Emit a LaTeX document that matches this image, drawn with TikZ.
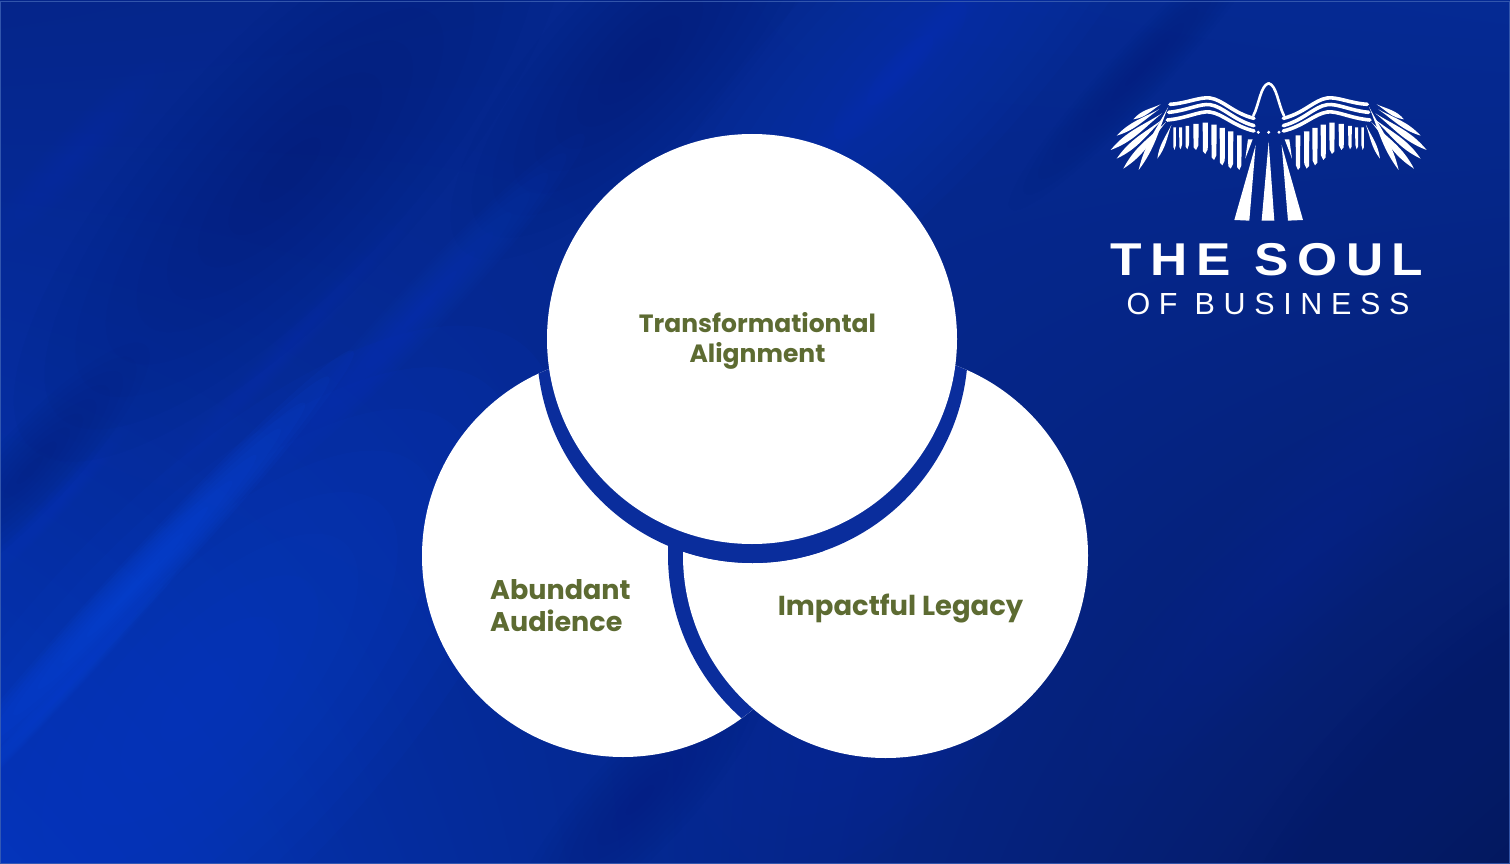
\documentclass[tikz,border=0pt]{standalone}
\usepackage{fontspec}
\usetikzlibrary{shadings}
\setmainfont{Poppins}
\newfontfamily\logofont[LetterSpace=19,FakeStretch=1.12]{Liberation Sans}
\newfontfamily\logosub[LetterSpace=28.3]{Liberation Sans}
\definecolor{ringblue}{HTML}{0A2D9C}
\definecolor{labelgreen}{HTML}{5D6B32}
\definecolor{edgeblue}{HTML}{3E62B4}
\definecolor{bgTL}{HTML}{05258A}
\definecolor{bgTR}{HTML}{052A94}
\definecolor{bgBL}{HTML}{0434B6}
\definecolor{bgBR}{HTML}{05185F}
\definecolor{glowblue}{HTML}{0B3DC8}
\definecolor{brightblue}{HTML}{0D46DC}
\definecolor{darkblue}{HTML}{031A68}
\tikzset{
  disc/.style={fill=white,draw=none},
  ringdisc/.style={fill=ringblue,draw=none},
  label/.style={font=\bfseries\fontsize{27}{32}\selectfont,text=labelgreen,inner sep=0pt},
  quill/.style={fill=white,draw=none},
  band/.style={draw=white,line width=3.6pt,line cap=round},
}
% soft diagonal streak: centre, half length, half width, colour, opacity
\newcommand{\softstreak}[6][47]{%
  \foreach \k in {1,...,9}{%
    \fill[#5,opacity=#6/9,rotate around={#1:(#2)}] (#2) ellipse[x radius={#3*\k/9},y radius={#4*\k/9}];
  }%
}
\newcommand{\lens}[3]{\fill[quill] (#1) to[relative,out=#3*.35,in=180-#3*1.5] (#2) to[relative,out=#3*1.5,in=180-#3*.35] (#1);}
\newcommand{\plume}[4]{\fill[quill] (#1-#3,#2) -- (#1+#3,#2) -- (#1+#3*.9,#4-14) -- (#1,#4) -- (#1-#3*.9,#4-8) -- cycle;}
\newcommand{\halfbird}{%
  \draw[white,line width=2.6pt,line cap=round] (490,137) .. controls (507,105) and (512,45) .. (536,40);
  \draw[band] (240,103) .. controls (290,100) and (330,80) .. (360,84) .. controls (400,90) and (430,130) .. (492,145);
  \draw[band] (236,127) .. controls (290,122) and (330,100) .. (360,104) .. controls (400,110) and (430,150) .. (492,167);
  \draw[band] (232,150) .. controls (290,145) and (330,122) .. (360,126) .. controls (400,132) and (430,168) .. (492,183);
  \plume{254}{172}{4}{240}
  \plume{272}{172}{4.5}{238}
  \plume{292}{168}{5.5}{238}
  \plume{318}{162}{8}{240}
  \plume{346}{158}{8}{252}
  \plume{372}{164}{8}{270}
  \plume{397}{174}{8}{286}
  \plume{422}{184}{8}{296}
  \plume{448}{196}{7}{300}
  \fill[quill] (488,208) -- (474,208) -- (466,266) -- cycle;
  \lens{235,110}{146,300}{8}
  \lens{244,165}{202,266}{10}
  \lens{212,103}{130,148}{14}
  \lens{207,118}{80,197}{10}
  \lens{216,130}{62,240}{10}
  \lens{220,146}{80,266}{10}
  \lens{228,156}{100,296}{10}
  \fill[quill] (497,225) -- (433,450) -- (478,452) -- cycle;
}
\begin{document}
\begin{tikzpicture}[x=1pt,y=-1pt]
\useasboundingbox (0,0) rectangle (1510,864);
% background
\shade[upper left=bgTL,upper right=bgTR,lower left=bgBL,lower right=bgBR] (0,0) rectangle (1510,864);
\begin{scope}
\clip (0,0) rectangle (1510,864);
% broad glows
\softstreak{200,700}{480}{190}{glowblue}{.80}
\softstreak{900,70}{420}{120}{glowblue}{.50}
\softstreak{1040,520}{460}{220}{glowblue}{.10}
\softstreak{1300,560}{300}{80}{glowblue}{.18}
\softstreak{860,700}{260}{130}{glowblue}{.28}
% broad shadows
\softstreak{290,170}{380}{130}{darkblue}{.40}
\softstreak{640,60}{260}{90}{darkblue}{.35}
\softstreak{1490,840}{420}{190}{darkblue}{.45}
\softstreak{30,470}{170}{40}{darkblue}{.40}
\softstreak{640,800}{180}{50}{darkblue}{.25}
\softstreak{1140,70}{190}{28}{darkblue}{.30}
% sharper streaks
\softstreak{135,585}{320}{24}{brightblue}{.95}
\softstreak{60,695}{170}{9}{brightblue}{.55}
\softstreak{55,505}{110}{12}{glowblue}{.30}
\softstreak{420,310}{240}{26}{glowblue}{.48}
\softstreak{290,345}{200}{14}{glowblue}{.24}
\softstreak{75,155}{130}{24}{glowblue}{.28}
\softstreak{900,70}{170}{18}{glowblue}{.32}
\softstreak{1030,70}{140}{10}{glowblue}{.15}
\softstreak{310,770}{170}{12}{glowblue}{.20}
\softstreak{1420,70}{130}{30}{glowblue}{.12}
\end{scope}
\draw[edgeblue,line width=1.4pt,opacity=.8] (.7,1.6) rectangle (1509.3,863.3);
% Venn discs
\path[disc] (623,556) circle[radius=201];
\begin{scope}
  \clip (623,556) circle[radius=201];
  \path[ringdisc] (886,555) circle[radius=218];
\end{scope}
\path[disc] (885.5,555.5) circle[radius=202.5];
\begin{scope}
  \clip (623,556) circle[radius=201];
  \path[ringdisc] (752.5,347.5) circle[radius=215.5];
\end{scope}
\begin{scope}
  \clip (885.5,555.5) circle[radius=202.5];
  \path[ringdisc] (752.5,347.5) circle[radius=215.5];
\end{scope}
\path[disc] (752,339) circle[radius=205];
% labels
\node[label,align=center,font=\bfseries\fontsize{25}{30}\selectfont] (top) at (757.5,341) {Transformationtal\\Alignment};
\node[label,align=left,anchor=west] (left) at (490,606) {Abundant\\Audience};
\node[label,anchor=center,font=\bfseries\fontsize{27.4}{32}\selectfont] (right) at (900.5,609) {Impactful Legacy};
% logo
\begin{scope}[shift={(1090,70)},x=.3333pt,y=-.3333pt]
  \halfbird
  \begin{scope}[shift={(1072,0)},xscale=-1]
    \halfbird
  \end{scope}
  \fill[quill] (536,215) -- (515,452) -- (553,452) -- cycle;
  \fill[quill] (505,187) circle[radius=5] (536,187) circle[radius=5] (567,187) circle[radius=5];
\end{scope}
\node[text=white,font=\logofont\bfseries\fontsize{46}{46}\selectfont,inner sep=0pt] (soul) at (1267,259.5) {THE SOUL};
\node[text=white,font=\logosub\fontsize{30.5}{30}\selectfont,inner sep=0pt] (business) at (1268,304) {OF BUSINESS};
\end{tikzpicture}
\end{document}
